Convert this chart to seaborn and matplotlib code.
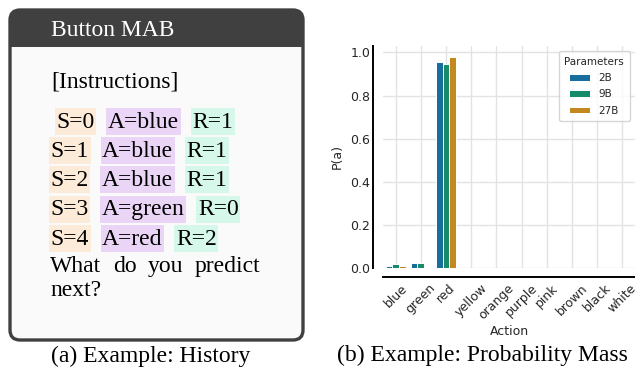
import matplotlib
matplotlib.use("Agg")
import matplotlib.pyplot as plt
from matplotlib.patches import FancyBboxPatch, Rectangle
import seaborn as sns
import pandas as pd

# ---------------- data ----------------
actions = ["blue", "green", "red", "yellow", "orange", "purple", "pink", "brown", "black", "white"]
p_2b = [0.009, 0.022, 0.955, 0.0005, 0.0005, 0.0005, 0.0005, 0.0005, 0.0005, 0.0005]
p_9b = [0.017, 0.020, 0.947, 0.0005, 0.0005, 0.0005, 0.0005, 0.0005, 0.0005, 0.0005]
p_27b = [0.008, 0.001, 0.981, 0.0005, 0.0005, 0.0005, 0.0005, 0.0005, 0.0005, 0.0005]
param_labels = ["2B", "9B", "27B"]

history_rows = [
    ("S=0", "A=blue", "R=1"),
    ("S=1", "A=blue", "R=1"),
    ("S=2", "A=blue", "R=1"),
    ("S=3", "A=green", "R=0"),
    ("S=4", "A=red", "R=2"),
]
question_words = ["What", "do", "you", "predict"]

df = pd.DataFrame({
    "Action": actions * 3,
    "P(a)": p_2b + p_9b + p_27b,
    "Parameters": [param_labels[0]] * len(actions)
    + [param_labels[1]] * len(actions)
    + [param_labels[2]] * len(actions),
})

# ---------------- style ----------------
sns.set_theme(style="whitegrid", rc={"grid.color": ".89", "axes.edgecolor": "black",
                                     "axes.linewidth": 1.4})
plt.rcParams["font.family"] = ["DejaVu Sans"]

W, H = 635, 367
fig = plt.figure(figsize=(W / 100, H / 100), dpi=100)

# ---------------- left panel (pixel coordinates) ----------------
ax0 = fig.add_axes([0, 0, 1, 1])
ax0.set_xlim(0, W)
ax0.set_ylim(H, 0)
ax0.axis("off")

serif = "Liberation Serif"
fs = 17
dark = "#404040"

body = FancyBboxPatch((10, 10), 293, 330, boxstyle="round,pad=0,rounding_size=10",
                      fc="#fafafa", ec="none", zorder=1)
ax0.add_patch(body)
header = FancyBboxPatch((10, 10), 293, 330, boxstyle="round,pad=0,rounding_size=10",
                        fc=dark, ec="none", zorder=2)
ax0.add_patch(header)
header.set_clip_path(Rectangle((0, 0), W, 47, transform=ax0.transData))
border = FancyBboxPatch((10, 10), 293, 330, boxstyle="round,pad=0,rounding_size=10",
                        fc="none", ec=dark, lw=2.4, zorder=3)
ax0.add_patch(border)

ax0.text(51, 36, "Button MAB", color="white", family=serif, fontsize=fs,
         va="baseline", ha="left", zorder=4)
ax0.text(51, 87.3, "[Instructions]", color="black", family=serif, fontsize=fs,
         va="baseline", ha="left", zorder=4)

renderer = fig.canvas.get_renderer()
bg_colors = ["#fcebd8", "#ebd5f7", "#d6f8eb"]
baselines = [127.7, 156.9, 186.1, 215.3, 244.6]
pad = 1.6
for i, row in enumerate(history_rows):
    x = 55 if i == 0 else 49
    y = baselines[i]
    for tok, col in zip(row, bg_colors):
        t = ax0.text(x + pad, y, tok, color="black", family=serif, fontsize=fs,
                     va="baseline", ha="left", zorder=6)
        w = t.get_window_extent(renderer=renderer).width
        ax0.add_patch(Rectangle((x, y - 19.7), w + 2 * pad, 27, fc=col, ec="none", zorder=5))
        x += w + 2 * pad + 10

word_x = [50, 112.7, 147.7, 195]
for wx, wd in zip(word_x, question_words):
    ax0.text(wx, 271.7, wd, color="black", family=serif, fontsize=fs,
             va="baseline", ha="left", zorder=6)
ax0.text(50, 295.7, "next?", color="black", family=serif, fontsize=fs,
         va="baseline", ha="left", zorder=6)

ax0.text(51, 362, "(a) Example: History", color="black", family=serif, fontsize=fs,
         va="baseline", ha="left")
ax0.text(337, 361, "(b) Example: Probability Mass", color="black", family=serif,
         fontsize=fs, va="baseline", ha="left")

# ---------------- right panel: bar chart ----------------
cb = sns.color_palette("colorblind")
palette = [cb[0], cb[2], cb[1]]

left_px, right_px, zero_px, top_px = 383, 635, 267.7, 46
ax = fig.add_axes([left_px / W, (H - zero_px) / H, (right_px - left_px) / W,
                   (zero_px - top_px) / H])
sns.barplot(data=df, x="Action", y="P(a)", hue="Parameters", palette=palette,
            order=actions, hue_order=param_labels, edgecolor="white", linewidth=0.7,
            ax=ax)
ax.set_yticks([0.0, 0.2, 0.4, 0.6, 0.8, 1.0])
ax.xaxis.grid(True)
ax.yaxis.grid(True)
ax.set_axisbelow(True)
ax.tick_params(axis="both", labelsize=9, colors=".15", size=0)
ax.tick_params(axis="y", pad=2)
ax.tick_params(axis="x", pad=3, labelrotation=45)
ax.set_xlabel("Action", fontsize=9, color=".15", labelpad=2)
ax.set_ylabel("P(a)", fontsize=9, color=".15", labelpad=5)
sns.despine(ax=ax, offset=7)
leg = ax.legend(title="Parameters", loc="upper right", fontsize=7.5, title_fontsize=7.5,
                frameon=True, labelspacing=0.6, borderpad=0.55, handleheight=0.6)
leg.get_frame().set_edgecolor(".8")

fig.savefig("out.png", dpi=100)
